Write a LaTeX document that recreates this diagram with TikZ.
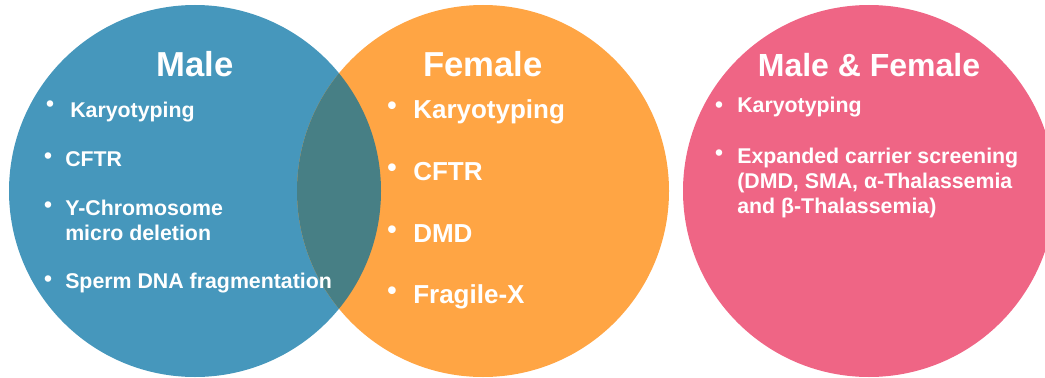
\documentclass[tikz,border=0pt]{standalone}
\usepackage{fontspec}
\setmainfont{Liberation Sans}
\usepackage{tikz}
\usetikzlibrary{positioning}

\definecolor{MaleBlue}{HTML}{4697BC}
\definecolor{FemaleOrange}{HTML}{FFA544}
\definecolor{BothPink}{HTML}{EF6585}
\definecolor{OverlapTeal}{HTML}{477F85}

\tikzset{
  setcircle/.style={circle, inner sep=0pt, minimum size=279pt},
  settitle/.style={text=white, inner sep=0pt, anchor=base, font=\bfseries\fontsize{#1}{#1}\selectfont},
  settitle/.default=26,
  item/.style={text=white, inner sep=0pt, anchor=base west, font=\bfseries\fontsize{#1}{#1}\selectfont},
  item/.default=16,
  dot/.style={text=white, inner sep=0pt, anchor=center, font=\bfseries\fontsize{#1}{#1}\selectfont},
  dot/.default=17
}

\begin{document}
\begin{tikzpicture}[x=0.75pt, y=-0.75pt]

  \useasboundingbox (0,0) rectangle (1045,378);

  % circles
  \node[setcircle, fill=MaleBlue] (male) at (195,191) {};
  \node[setcircle, fill=FemaleOrange] (female) at (483,191) {};
  \node[setcircle, fill=BothPink] (both) at (869,191) {};

  \begin{scope}
    \clip (male.center) circle (139.5pt);
    \fill[OverlapTeal] (female.center) circle (139.5pt);
  \end{scope}

  % titles
  \node[settitle] (maletitle) at (195,76) {Male};
  \node[settitle] (femaletitle) at (483,76) {Female};
  \node[settitle=24] (bothtitle) at (869,77) {Male \& Female};

  % male list
  \node[dot] (mdot1) at (50,106) {•};
  \node[dot] (mdot2) at (48,158) {•};
  \node[dot] (mdot3) at (48,207) {•};
  \node[dot] (mdot4) at (48,281) {•};
  \node[item] (mitem1) at (70,117) {Karyotyping};
  \node[item] (mitem2) at (65,166) {CFTR};
  \node[item] (mitem3) at (65,215) {Y-Chromosome};
  \node[item] (mitem3b) at (65,240) {micro deletion};
  \node[item] (mitem4) at (65,288) {Sperm DNA fragmentation};

  % female list
  \node[dot=20] (fdot1) at (392,108) {•};
  \node[dot=20] (fdot2) at (392,170) {•};
  \node[dot=20] (fdot3) at (392,232) {•};
  \node[dot=20] (fdot4) at (392,293) {•};
  \node[item=19.5] (fitem1) at (413,118) {Karyotyping};
  \node[item=19.5] (fitem2) at (413,180) {CFTR};
  \node[item=19.5] (fitem3) at (413,242) {DMD};
  \node[item=19.5] (fitem4) at (413,303) {Fragile-X};

  % male & female list
  \node[dot] (bdot1) at (719,107) {•};
  \node[dot] (bdot2) at (719,155) {•};
  \node[item] (bitem1) at (737,113) {Karyotyping};
  \node[item] (bitem2) at (737,163) {Expanded carrier screening};
  \node[item] (bitem2b) at (737,188) {(DMD, SMA, α-Thalassemia};
  \node[item] (bitem2c) at (737,213) {and β-Thalassemia)};

\end{tikzpicture}
\end{document}
